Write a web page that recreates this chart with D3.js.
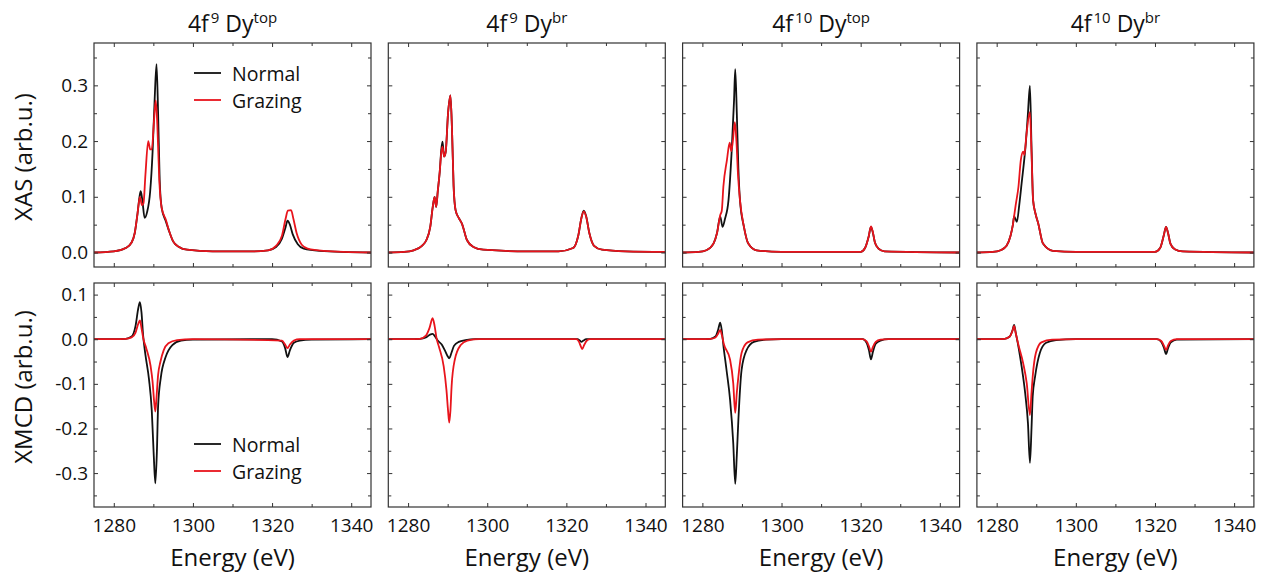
<!DOCTYPE html>
<html>
<head>
<meta charset="utf-8">
<script src="https://cdn.jsdelivr.net/npm/d3@7"></script>
<style>
  body { margin: 0; background: white; }
  text { font-family: 'Open Sans', sans-serif; fill: #111; }
</style>
</head>
<body>
<div id="chart"></div>
<script>
// Tick values and labels
const energyTicks = [1280, 1300, 1320, 1340];
const energyMinor = [1290, 1310, 1330];
const xasTicks = [0, 0.1, 0.2, 0.3];
const xasMinor = [0.05, 0.15, 0.25, 0.35];
const xmcdTicks = [-0.3, -0.2, -0.1, 0, 0.1];
const xmcdMinor = [-0.35, -0.25, -0.15, -0.05, 0.05];
const configs = ["9", "9", "10", "10"];
const sites = ["top", "br", "top", "br"];
const seriesNames = ["Normal", "Grazing"];

// Curves: [energy (eV), intensity]
const xasN_f9top = [[1275,0],[1280,0.002],[1283,0.008],[1284.5,0.018],[1285.3,0.035],[1286,0.07],[1286.5,0.1],[1286.8,0.11],[1287.2,0.095],[1287.8,0.062],[1288.4,0.072],[1289.2,0.11],[1289.8,0.18],[1290.3,0.27],[1290.8,0.338],[1291.2,0.25],[1291.6,0.13],[1292.1,0.08],[1293.2,0.055],[1294,0.038],[1295,0.02],[1296.5,0.01],[1298.5,0.005],[1305,0.002],[1315,0.002],[1319,0.004],[1321,0.01],[1322.5,0.025],[1323.4,0.045],[1323.9,0.057],[1324.5,0.05],[1325.2,0.033],[1326.5,0.015],[1328,0.007],[1332,0.003],[1345,0]];
const xasG_f9top = [[1275,0],[1280,0.002],[1283,0.008],[1284.5,0.018],[1285.3,0.035],[1286,0.07],[1286.6,0.1],[1287.1,0.085],[1287.5,0.088],[1288,0.14],[1288.7,0.2],[1289.2,0.185],[1289.6,0.185],[1290.2,0.24],[1290.6,0.273],[1291,0.23],[1291.5,0.13],[1292.1,0.08],[1293.2,0.058],[1294,0.038],[1295,0.02],[1296.5,0.01],[1298.5,0.005],[1305,0.002],[1315,0.002],[1319,0.004],[1321,0.012],[1322.5,0.03],[1323.4,0.06],[1324,0.075],[1324.8,0.076],[1325.4,0.06],[1326.2,0.035],[1327.5,0.014],[1329,0.007],[1333,0.003],[1345,0]];
const xmcdN_f9top = [[1275,0],[1283,0.001],[1284.5,0.006],[1285.5,0.03],[1286.2,0.07],[1286.6,0.083],[1287,0.06],[1287.4,0.01],[1288,-0.035],[1288.9,-0.09],[1289.6,-0.16],[1290.1,-0.26],[1290.5,-0.323],[1290.9,-0.25],[1291.2,-0.15],[1291.9,-0.085],[1293.1,-0.04],[1294.8,-0.013],[1297,-0.003],[1300,-0.001],[1320,0],[1322.5,-0.005],[1323.3,-0.02],[1323.9,-0.04],[1324.5,-0.025],[1325.5,-0.008],[1327,-0.003],[1330,-0.001],[1345,0]];
const xmcdG_f9top = [[1275,0],[1283,0.001],[1284.5,0.004],[1285.5,0.015],[1286.2,0.035],[1286.6,0.042],[1287,0.025],[1287.5,0],[1288.2,-0.02],[1289.3,-0.06],[1289.8,-0.095],[1290.2,-0.14],[1290.5,-0.162],[1290.8,-0.13],[1291.2,-0.08],[1291.8,-0.05],[1292.6,-0.025],[1293.8,-0.009],[1296,-0.002],[1300,0],[1322.5,-0.003],[1323.3,-0.012],[1323.9,-0.02],[1324.5,-0.012],[1325.5,-0.003],[1327,0],[1345,0]];

const xasN_f9br = [[1275,0],[1279,0.001],[1281.4,0.004],[1283.5,0.012],[1284.6,0.022],[1285.6,0.046],[1286.2,0.08],[1286.7,0.1],[1287.1,0.082],[1287.5,0.11],[1288,0.145],[1288.4,0.185],[1288.7,0.199],[1289.1,0.172],[1289.5,0.18],[1290.1,0.25],[1290.7,0.282],[1291.1,0.22],[1291.5,0.12],[1292,0.076],[1292.8,0.062],[1293.6,0.052],[1294.9,0.022],[1296.5,0.01],[1299,0.005],[1310,0.002],[1318,0.002],[1321.7,0.008],[1323,0.03],[1323.8,0.062],[1324.4,0.075],[1325,0.065],[1325.8,0.035],[1327,0.012],[1329,0.005],[1335,0.002],[1345,0.001]];
const xasG_f9br = [[1275,0],[1279,0.001],[1281.4,0.004],[1283.5,0.012],[1284.6,0.022],[1285.6,0.046],[1286.2,0.08],[1286.7,0.1],[1287.1,0.082],[1287.5,0.11],[1288,0.145],[1288.4,0.18],[1288.7,0.19],[1289.1,0.172],[1289.5,0.18],[1290.1,0.25],[1290.7,0.282],[1291.1,0.22],[1291.5,0.12],[1292,0.076],[1292.8,0.062],[1293.6,0.052],[1294.9,0.022],[1296.5,0.01],[1299,0.005],[1310,0.002],[1318,0.002],[1321.7,0.008],[1323,0.03],[1323.8,0.062],[1324.4,0.074],[1325,0.064],[1325.8,0.035],[1327,0.012],[1329,0.005],[1335,0.002],[1345,0.001]];
const xmcdN_f9br = [[1275,0],[1283,0.001],[1284.5,0.004],[1285.5,0.01],[1286.2,0.012],[1286.8,0.006],[1287.5,-0.003],[1288.5,-0.012],[1289.3,-0.025],[1290,-0.038],[1290.4,-0.043],[1290.9,-0.032],[1291.6,-0.015],[1292.8,-0.006],[1294.5,-0.002],[1297,0],[1322.8,0],[1323.4,-0.003],[1323.8,-0.006],[1324.3,-0.003],[1325,0],[1345,0]];
const xmcdG_f9br = [[1275,0],[1283,0.001],[1284.5,0.008],[1285.4,0.025],[1286.2,0.047],[1286.7,0.03],[1287.2,0.002],[1287.8,-0.017],[1289,-0.061],[1289.7,-0.114],[1290.1,-0.16],[1290.4,-0.187],[1290.7,-0.16],[1291,-0.105],[1291.8,-0.046],[1293.3,-0.013],[1295,-0.003],[1298,0],[1322.5,0],[1323.2,-0.006],[1323.6,-0.015],[1324,-0.022],[1324.5,-0.013],[1325.2,-0.003],[1326,0],[1345,0]];

const xasN_f10top = [[1275,0],[1279,0.001],[1281,0.004],[1282.8,0.016],[1283.7,0.035],[1284.5,0.065],[1285.1,0.046],[1285.7,0.06],[1286.6,0.094],[1287.4,0.182],[1288,0.273],[1288.3,0.329],[1288.7,0.25],[1289.1,0.15],[1289.5,0.094],[1290.5,0.046],[1291.6,0.016],[1293.7,0.004],[1300,0.001],[1320,0.001],[1321.1,0.008],[1322,0.028],[1322.6,0.046],[1323.1,0.035],[1323.6,0.018],[1324.5,0.007],[1326,0.002],[1345,0]];
const xasG_f10top = [[1275,0],[1279,0.001],[1281,0.004],[1282.8,0.016],[1283.7,0.035],[1284.5,0.067],[1284.9,0.075],[1285.3,0.118],[1286.2,0.166],[1286.9,0.197],[1287.3,0.182],[1287.7,0.2],[1288.2,0.234],[1288.6,0.2],[1289,0.14],[1289.5,0.094],[1290.5,0.046],[1291.6,0.016],[1293.7,0.004],[1300,0.001],[1320,0.001],[1321.1,0.008],[1322,0.028],[1322.6,0.047],[1323.1,0.036],[1323.6,0.018],[1324.5,0.007],[1326,0.002],[1345,0]];
const xmcdN_f10top = [[1275,0],[1282,0.001],[1283.3,0.006],[1284,0.022],[1284.5,0.037],[1284.9,0.02],[1285.3,-0.013],[1286.1,-0.069],[1287,-0.136],[1287.8,-0.233],[1288.3,-0.324],[1288.7,-0.26],[1289.1,-0.18],[1289.9,-0.069],[1291.2,-0.024],[1293,-0.006],[1296,-0.001],[1300,0],[1320.5,0],[1321.5,-0.008],[1322.1,-0.025],[1322.6,-0.045],[1323.1,-0.028],[1323.8,-0.01],[1325,-0.003],[1327,0],[1345,0]];
const xmcdG_f10top = [[1275,0],[1282,0.001],[1283.3,0.004],[1284,0.013],[1284.5,0.021],[1284.9,0.01],[1285.4,-0.01],[1287,-0.046],[1287.8,-0.099],[1288.3,-0.165],[1288.7,-0.12],[1289.1,-0.084],[1289.9,-0.031],[1291.4,-0.007],[1294,-0.001],[1300,0],[1320.5,0],[1321.5,-0.005],[1322.1,-0.016],[1322.6,-0.028],[1323.1,-0.017],[1323.8,-0.006],[1325,-0.001],[1327,0],[1345,0]];

const xasN_f10br = [[1275,0],[1279,0.001],[1281,0.004],[1282.5,0.012],[1283.5,0.03],[1284.1,0.05],[1284.4,0.065],[1285.1,0.055],[1285.7,0.085],[1286.3,0.124],[1287.4,0.2],[1287.9,0.25],[1288.4,0.299],[1288.8,0.19],[1289.2,0.094],[1289.8,0.07],[1290.5,0.052],[1291.7,0.016],[1294.2,0.003],[1300,0.001],[1320,0.001],[1321.3,0.008],[1322.2,0.03],[1322.8,0.046],[1323.3,0.035],[1323.9,0.016],[1325,0.006],[1327,0.002],[1345,0]];
const xasG_f10br = [[1275,0],[1279,0.001],[1281,0.004],[1282.5,0.012],[1283.5,0.03],[1284.1,0.05],[1284.4,0.065],[1284.8,0.085],[1285.5,0.118],[1286.1,0.166],[1286.7,0.181],[1287,0.175],[1287.5,0.21],[1288.4,0.252],[1288.8,0.18],[1289.2,0.094],[1289.8,0.07],[1290.5,0.052],[1291.7,0.016],[1294.2,0.003],[1300,0.001],[1320,0.001],[1321.3,0.008],[1322.2,0.03],[1322.8,0.046],[1323.3,0.035],[1323.9,0.016],[1325,0.006],[1327,0.002],[1345,0]];
const xmcdN_f10br = [[1275,0],[1282,0.001],[1283.3,0.006],[1284,0.02],[1284.4,0.032],[1284.8,0.015],[1285.5,-0.017],[1286.3,-0.061],[1287.2,-0.121],[1287.9,-0.188],[1288.4,-0.277],[1288.8,-0.2],[1289.1,-0.128],[1289.7,-0.084],[1290.9,-0.031],[1292.5,-0.008],[1295,-0.002],[1300,0],[1320.5,0],[1321.6,-0.006],[1322.3,-0.02],[1322.8,-0.033],[1323.3,-0.02],[1324,-0.007],[1325.5,-0.001],[1345,0]];
const xmcdG_f10br = [[1275,0],[1282,0.001],[1283.3,0.006],[1284,0.019],[1284.4,0.03],[1284.8,0.014],[1285.5,-0.013],[1286.7,-0.054],[1287.6,-0.099],[1288.4,-0.17],[1288.8,-0.12],[1289.1,-0.084],[1289.9,-0.031],[1291.3,-0.007],[1294,-0.001],[1300,0],[1320.5,0],[1321.6,-0.004],[1322.3,-0.015],[1322.8,-0.024],[1323.3,-0.014],[1324,-0.004],[1325.5,0],[1345,0]];

// panel layout
let width = 1265;
let height = 579;
let panelLeft = 94;
let panelStep = 294.3;
let panelW = 277;
let panelH = 224;
let rowTop = [43, 283];
let colors = ["#111111", "#e8141c"];

let energyDomain = [1275, 1345];
let yDomains = [[-0.026, 0.376], [-0.376, 0.126]];
let yTicks = [xasTicks, xmcdTicks];
let yMinor = [xasMinor, xmcdMinor];
let yLabels = ["XAS (arb.u.)", "XMCD (arb.u.)"];

const curves = [
  [[xasN_f9top, xasG_f9top], [xmcdN_f9top, xmcdG_f9top]],
  [[xasN_f9br, xasG_f9br], [xmcdN_f9br, xmcdG_f9br]],
  [[xasN_f10top, xasG_f10top], [xmcdN_f10top, xmcdG_f10top]],
  [[xasN_f10br, xasG_f10br], [xmcdN_f10br, xmcdG_f10br]]
];

let svg = d3.select('#chart')
            .append('svg')
            .attr('width', width)
            .attr('height', height)
            .style('background', 'white');

const fmt = d => d.toFixed(1);

curves.forEach((panelCurves, c) => {
  let left = panelLeft + c * panelStep;
  let xScale = d3.scaleLinear()
                 .domain(energyDomain)
                 .range([left, left + panelW]);

  // title
  let title = svg.append('text')
     .attr('x', left + panelW / 2)
     .attr('y', 32)
     .attr('text-anchor', 'middle')
     .style('font-size', '23px');
  title.append('tspan').text('4f');
  title.append('tspan').attr('dy', -9).attr('dx', 2).style('font-size', '15px').text(configs[c]);
  title.append('tspan').attr('dy', 9).text(' Dy');
  title.append('tspan').attr('dy', -9).style('font-size', '15px').text(sites[c]);

  panelCurves.forEach((pair, r) => {
    let top = rowTop[r];
    let yScale = d3.scaleLinear()
                   .domain(yDomains[r])
                   .range([top + panelH, top]);

    let clipId = `clip-${c}-${r}`;
    svg.append('clipPath').attr('id', clipId)
       .append('rect')
       .attr('x', left).attr('y', top)
       .attr('width', panelW).attr('height', panelH);

    let line = d3.line()
        .x(d => xScale(d[0]))
        .y(d => yScale(d[1]))
        .curve(d3.curveMonotoneX);

    pair.forEach((data, i) => {
      svg.append('path')
         .datum(data)
         .attr('clip-path', `url(#${clipId})`)
         .attr('fill', 'none')
         .attr('stroke', colors[i])
         .attr('stroke-width', 1.8)
         .attr('stroke-linejoin', 'round')
         .attr('d', line);
    });

    // inward ticks on all four sides
    let axes = [
      [d3.axisBottom(xScale), `translate(0,${top + panelH})`, energyTicks, energyMinor],
      [d3.axisTop(xScale), `translate(0,${top})`, energyTicks, energyMinor],
      [d3.axisLeft(yScale), `translate(${left},0)`, yTicks[r], yMinor[r]],
      [d3.axisRight(yScale), `translate(${left + panelW},0)`, yTicks[r], yMinor[r]]
    ];
    axes.forEach(([ax, tr, major, minor], k) => {
      let showLabels = (k == 0 && r == 1) || (k == 2 && c == 0);
      svg.append('g')
         .attr('transform', tr)
         .call(ax.tickValues(major).tickSize(-4).tickPadding(k == 0 ? 12 : 6)
                 .tickFormat(showLabels ? (k == 0 ? d3.format('d') : fmt) : ''))
         .call(g => g.select('.domain').remove())
         .call(g => g.selectAll('line').attr('stroke', '#333'))
         .call(g => g.selectAll('text').style('font-size', '19px').attr('fill', '#111'));
      let axMinor = (k == 0 ? d3.axisBottom(xScale) : k == 1 ? d3.axisTop(xScale)
                    : k == 2 ? d3.axisLeft(yScale) : d3.axisRight(yScale));
      svg.append('g')
         .attr('transform', tr)
         .call(axMinor.tickValues(minor).tickSize(-3).tickFormat(''))
         .call(g => g.select('.domain').remove())
         .call(g => g.selectAll('line').attr('stroke', '#333'));
    });

    svg.append('rect')
       .attr('x', left).attr('y', top)
       .attr('width', panelW).attr('height', panelH)
       .attr('fill', 'none')
       .attr('stroke', '#333')
       .attr('stroke-width', 1.2);

    if (c == 0) {
      svg.append('text')
         .attr('transform', `translate(26,${top + panelH / 2 + (r == 0 ? 2 : -8)}) rotate(-90)`)
         .attr('text-anchor', 'middle')
         .attr('dominant-baseline', 'middle')
         .style('font-size', '24px')
         .text(yLabels[r]);

      // legend
      let legendY = r == 0 ? 73 : 444;
      seriesNames.forEach((name, i) => {
        svg.append('line')
           .attr('x1', 194).attr('x2', 221)
           .attr('y1', legendY + i * 27).attr('y2', legendY + i * 27)
           .attr('stroke', colors[i])
           .attr('stroke-width', 1.8);
        svg.append('text')
           .attr('x', 232)
           .attr('y', legendY + i * 27)
           .attr('dominant-baseline', 'central')
           .style('font-size', '19.5px')
           .text(name);
      });
    }
  });

  svg.append('text')
     .attr('x', left + panelW / 2)
     .attr('y', 566)
     .attr('text-anchor', 'middle')
     .style('font-size', '24px')
     .text('Energy (eV)');
});
</script>
</body>
</html>
